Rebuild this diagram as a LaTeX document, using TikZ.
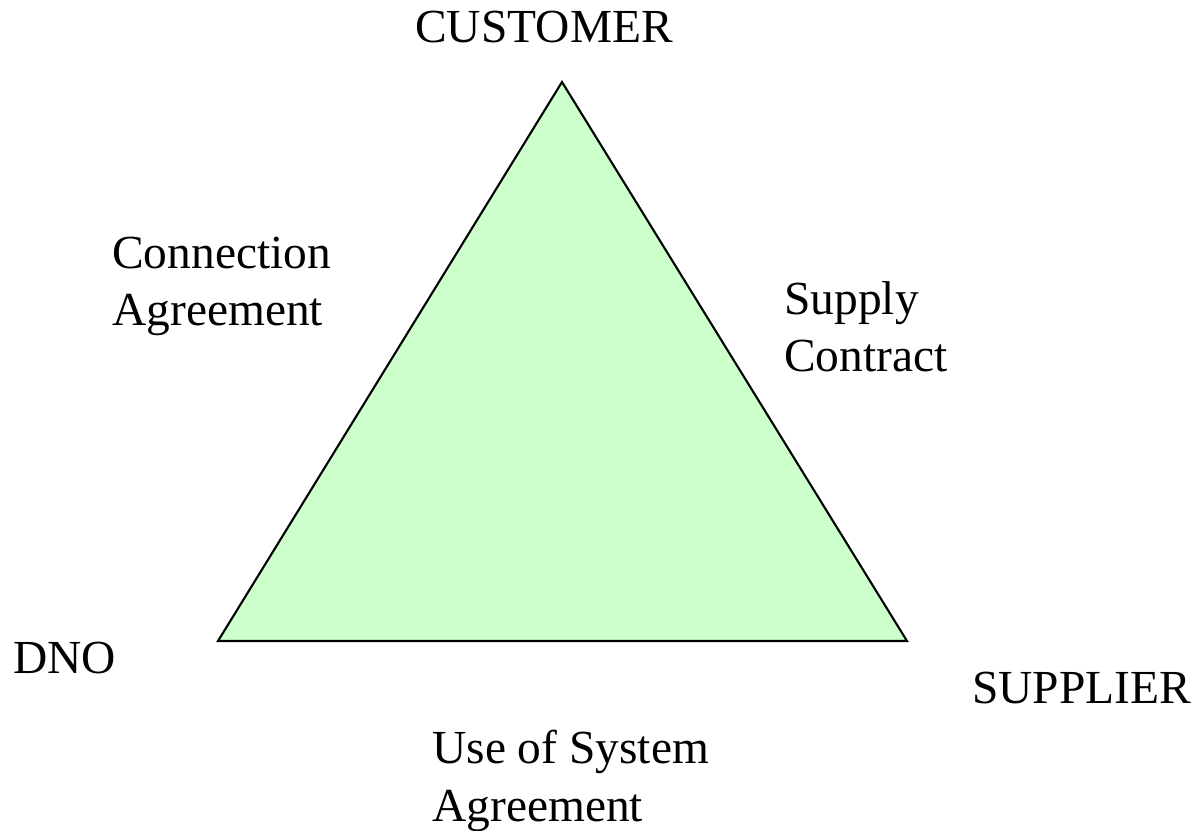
\documentclass[tikz,border=0pt]{standalone}
\usepackage{fontspec}
\setmainfont{Liberation Serif}
\usepackage{xcolor}
\usepackage{tikz}
\definecolor{palegreen}{HTML}{CCFFCC}

\begin{document}
\begin{tikzpicture}[x=0.02cm,y=-0.02cm,
    party/.style={anchor=base west,inner sep=0pt,align=left,
      font=\fontsize{27}{33}\selectfont}]
    \useasboundingbox (0,0) rectangle (1201,831);
    \coordinate (ctop) at (562,82);
    \coordinate (cleft) at (218,641);
    \coordinate (cright) at (907,641);
    \filldraw[fill=palegreen,draw=black,line width=1.2pt] (ctop) -- (cleft) -- (cright) -- cycle;
    \draw (415,43) node[party] (customer) {CUSTOMER};
    \draw (13,673) node[party] (dno) {DNO};
    \draw (972,703) node[party] (supplier) {SUPPLIER};
    % two-line labels sit on the baseline of their last line
    \draw (112,326) node[party] (conn) {Connection\\Agreement};
    \draw (784,372) node[party] (supply) {Supply\\Contract};
    \draw (432,821) node[party] (uos) {Use of System\\Agreement};
  \end{tikzpicture}
\end{document}
